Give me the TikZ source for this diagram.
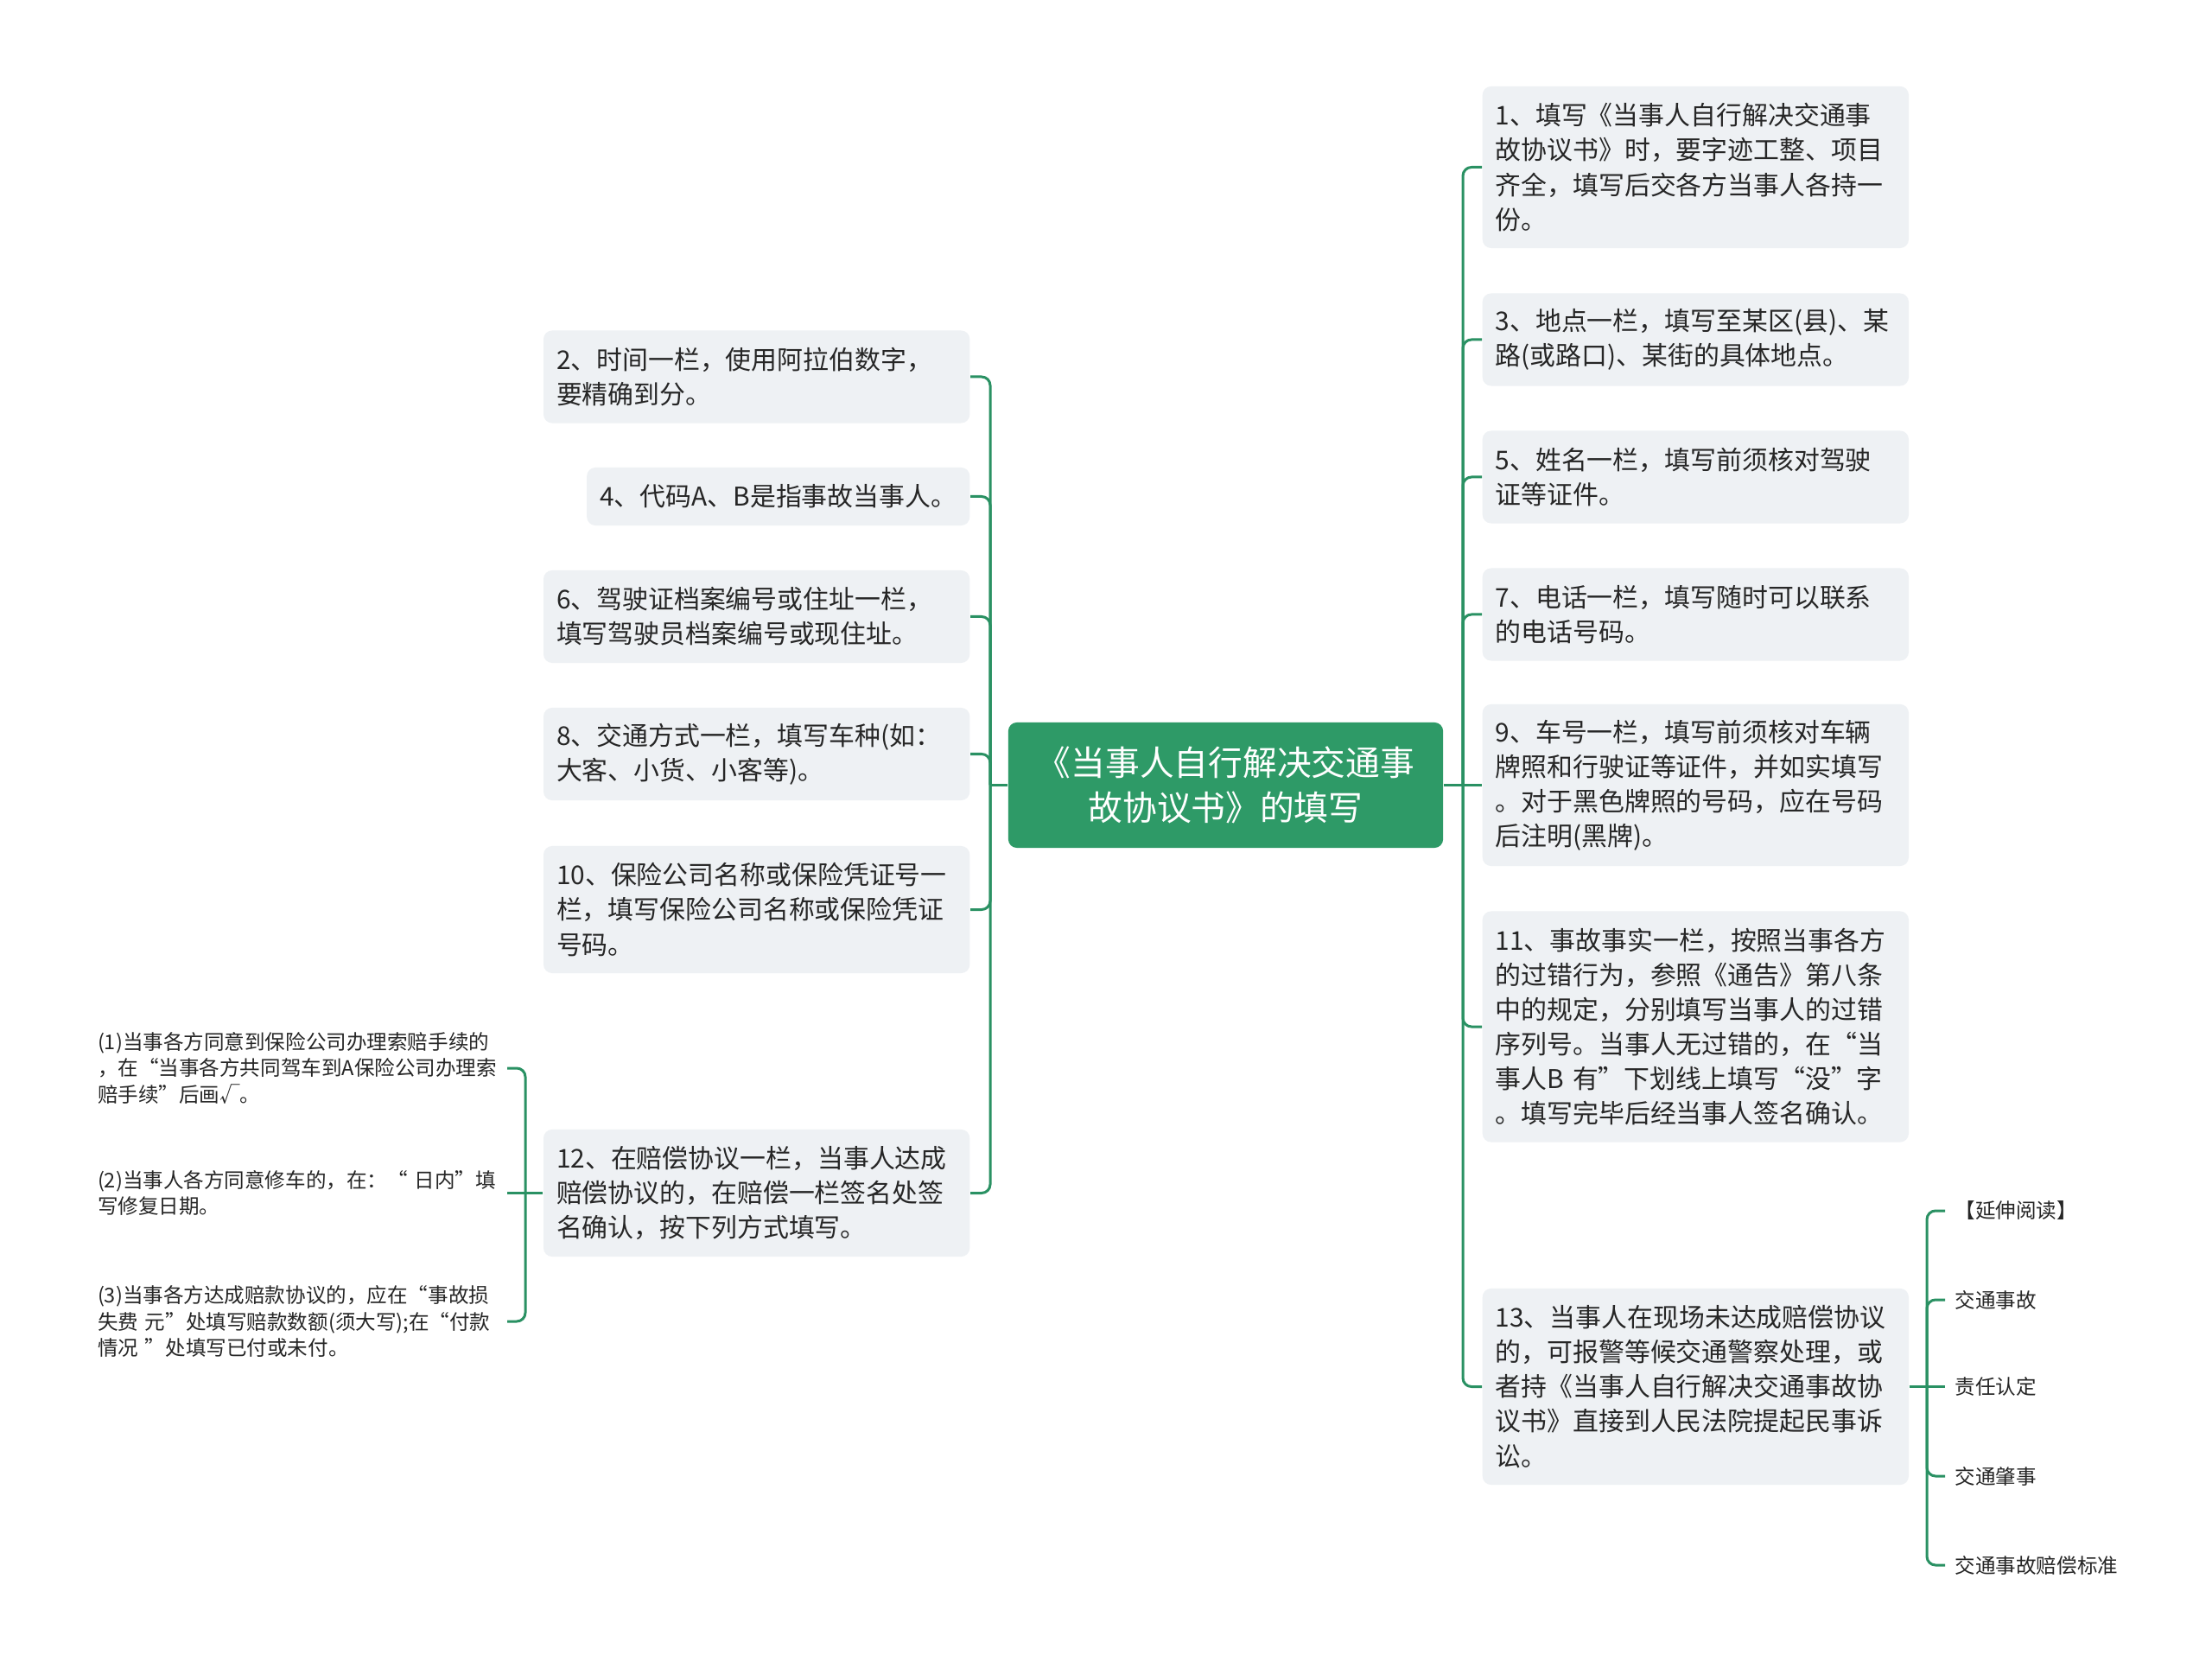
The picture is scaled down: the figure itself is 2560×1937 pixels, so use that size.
\documentclass[tikz,border=0pt]{standalone}
\usepackage{fontspec}
\setmainfont{Noto Sans CJK SC}
\definecolor{mapgreen}{HTML}{2E9A67}
\definecolor{linkgreen}{HTML}{2A9163}
\definecolor{boxgray}{HTML}{EEF1F4}
\definecolor{inkgray}{HTML}{262626}
\newcommand\boxfont{\fontsize{8.5pt}{11.4pt}\selectfont}
\newcommand\leaffont{\fontsize{6.7pt}{8.8pt}\selectfont}
\newcommand\topfont{\fontsize{11.3pt}{14.8pt}\selectfont}
\tikzset{nrows/.style={minimum height=#1*0.4cm+0.27cm}}

\begin{document}
\begin{tikzpicture}[x=0.01cm,y=-0.01cm]%
\tikzstyle{link}=[draw=linkgreen,line width=0.03cm] %%
\tikzstyle{box}=[fill=boxgray,rounded corners=0.1cm,inner xsep=0.15cm,inner ysep=0cm,text=inkgray,font=\boxfont,align=left] %%
\tikzstyle{wide}=[text width=4.63cm] %%
\tikzstyle{leaf}=[text=inkgray,font=\leaffont,align=left,inner xsep=0.13cm,inner ysep=0cm] %%
\fill[white] (0,0) rectangle (2560,1937);
\useasboundingbox (0,0) rectangle (2560,1937);
\node[fill=mapgreen,rounded corners=0.1cm,text=white,font=\topfont,align=center,inner sep=0cm,minimum width=5.03cm,minimum height=1.45cm] (c) at (1418.5,908.5) {《当事人自行解决交通事\\故协议书》的填写}; %%
\coordinate (spL) at (1146,0); %%
\coordinate (spR) at (1693,0); %%
\coordinate (spS) at (608,0); %%
\coordinate (spE) at (2230,0); %%
\begin{scope}%
\tikzstyle{every node}=[box,anchor=east] %%
\node[wide,nrows=2] (l2) at (1123,436) {2、时间一栏，使用阿拉伯数字，\\要精确到分。}; %%
\node[nrows=1] (l4) at (1123,574.5) {4、代码A、B是指事故当事人。}; %%
\node[wide,nrows=2] (l6) at (1123,713.5) {6、驾驶证档案编号或住址一栏，\\填写驾驶员档案编号或现住址。}; %%
\node[wide,nrows=2] (l8) at (1123,872.5) {8、交通方式一栏，填写车种(如：\\大客、小货、小客等)。}; %%
\node[wide,nrows=3] (l10) at (1123,1052.5) {10、保险公司名称或保险凭证号一\\栏，填写保险公司名称或保险凭证\\号码。}; %%
\node[wide,nrows=3] (l12) at (1123,1380.5) {12、在赔偿协议一栏，当事人达成\\赔偿协议的，在赔偿一栏签名处签\\名确认，按下列方式填写。}; %%
\end{scope}
\begin{scope}%
\tikzstyle{every node}=[box,wide,anchor=west] %%
\node[nrows=4] (r1) at (1715,193.5) {1、填写《当事人自行解决交通事\\故协议书》时，要字迹工整、项目\\齐全，填写后交各方当事人各持一\\份。}; %%
\node[nrows=2] (r3) at (1715,393) {3、地点一栏，填写至某区(县)、某\\路(或路口)、某街的具体地点。}; %%
\node[nrows=2] (r5) at (1715,552) {5、姓名一栏，填写前须核对驾驶\\证等证件。}; %%
\node[nrows=2] (r7) at (1715,711) {7、电话一栏，填写随时可以联系\\的电话号码。}; %%
\node[nrows=4] (r9) at (1715,908.5) {9、车号一栏，填写前须核对车辆\\牌照和行驶证等证件，并如实填写\\。对于黑色牌照的号码，应在号码\\后注明(黑牌)。}; %%
\node[nrows=6] (r11) at (1715,1188) {11、事故事实一栏，按照当事各方\\的过错行为，参照《通告》第八条\\中的规定，分别填写当事人的过错\\序列号。当事人无过错的，在“当\\事人B~有”下划线上填写“没”字\\。填写完毕后经当事人签名确认。}; %%
\node[nrows=5] (r13) at (1715,1604.5) {13、当事人在现场未达成赔偿协议\\的，可报警等候交通警察处理，或\\者持《当事人自行解决交通事故协\\议书》直接到人民法院提起民事诉\\讼。}; %%
\end{scope}
\begin{scope}%
\tikzstyle{every node}=[leaf,text width=4.6cm,anchor=east] %%
\node (s1) at (587,1236) {(1)当事各方同意到保险公司办理索赔手续的\\，在“当事各方共同驾车到A保险公司办理索\\赔手续”后画√。}; %%
\node (s2) at (587,1380.5) {(2)当事人各方同意修车的，在：“~日内”填\\写修复日期。}; %%
\node (s3) at (587,1529) {(3)当事各方达成赔款协议的，应在“事故损\\失费~元”处填写赔款数额(须大写);在“付款\\情况~”处填写已付或未付。}; %%
\end{scope}
\begin{scope}%
\tikzstyle{every node}=[leaf,inner xsep=0.11cm,anchor=west] %%
\node (e1) at (2251,1401) {【延伸阅读】}; %%
\node (e2) at (2251,1504) {交通事故}; %%
\node (e3) at (2251,1604.5) {责任认定}; %%
\node (e4) at (2251,1708) {交通肇事}; %%
\node (e5) at (2251,1811) {交通事故赔偿标准}; %%
\end{scope}
\draw[link] (c.west) -- (c.west -| spL); %%
\draw[link,rounded corners=0.1cm] (c.west -| spL) |- (l2.east); %%
\draw[link,rounded corners=0.1cm] (c.west -| spL) |- (l4.east); %%
\draw[link,rounded corners=0.1cm] (c.west -| spL) |- (l6.east); %%
\draw[link,rounded corners=0.1cm] (c.west -| spL) |- (l8.east); %%
\draw[link,rounded corners=0.1cm] (c.west -| spL) |- (l10.east); %%
\draw[link,rounded corners=0.1cm] (c.west -| spL) |- (l12.east); %%
\draw[link] (c.east) -- (r9.west); %%
\draw[link,rounded corners=0.1cm] (c.east -| spR) |- (r1.west); %%
\draw[link,rounded corners=0.1cm] (c.east -| spR) |- (r3.west); %%
\draw[link,rounded corners=0.1cm] (c.east -| spR) |- (r5.west); %%
\draw[link,rounded corners=0.1cm] (c.east -| spR) |- (r7.west); %%
\draw[link,rounded corners=0.1cm] (c.east -| spR) |- (r11.west); %%
\draw[link,rounded corners=0.1cm] (c.east -| spR) |- (r13.west); %%
\draw[link] (l12.west) -- (s2.east); %%
\draw[link,rounded corners=0.1cm] (l12.west -| spS) |- (s1.east); %%
\draw[link,rounded corners=0.1cm] (l12.west -| spS) |- (s3.east); %%
\draw[link] (r13.east) -- (e3.west); %%
\draw[link,rounded corners=0.1cm] (r13.east -| spE) |- (e1.west); %%
\draw[link,rounded corners=0.1cm] (r13.east -| spE) |- (e2.west); %%
\draw[link,rounded corners=0.1cm] (r13.east -| spE) |- (e4.west); %%
\draw[link,rounded corners=0.1cm] (r13.east -| spE) |- (e5.west); %%
\end{tikzpicture}
\end{document}
